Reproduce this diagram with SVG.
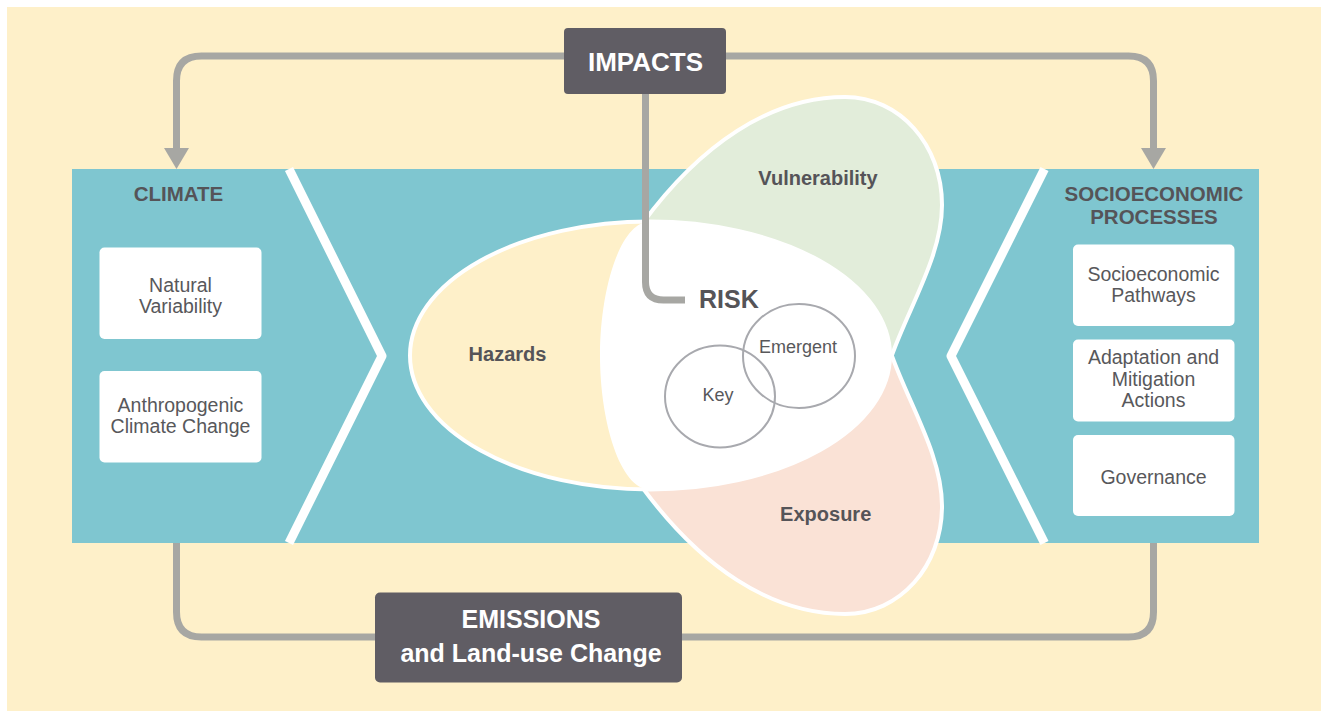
<svg xmlns="http://www.w3.org/2000/svg" width="1321" height="711" viewBox="0 0 1321 711">
  <defs>
    <style>
      .lbl { font-family: "Liberation Sans", Arial, sans-serif; }
      .hdr { font-weight: bold; font-size: 20.5px; fill: #555458; text-anchor: middle; }
      .box { fill: #ffffff; }
      .boxt { font-size: 19.5px; fill: #58585b; text-anchor: middle; }
      .venn { font-weight: bold; font-size: 20px; fill: #555458; text-anchor: middle; }
      .small { font-size: 18px; fill: #58585b; text-anchor: middle; }
      .dark { fill: #605d64; }
      .darkt { font-weight: bold; fill: #ffffff; text-anchor: middle; }
      .conn { fill: none; stroke: #a7a7a3; stroke-width: 7; }
      .chev { fill: none; stroke: #ffffff; stroke-width: 9; stroke-linejoin: round; }
      .shape { stroke: #ffffff; stroke-width: 4; stroke-linejoin: round; }
      .ring { fill: none; stroke: #a8a9ae; stroke-width: 2; }
    </style>
    <marker id="arrow" markerUnits="userSpaceOnUse" viewBox="0 0 21 25" markerWidth="21" markerHeight="25" refX="0" refY="12.5" orient="auto">
      <path d="M0,0 L21,12.5 L0,25 Z" fill="#a7a7a3"/>
    </marker>
    <path id="vulnPath" d="M892,355 C910,305 942,255 942,205 C942,145 900,97 845,97 C770,97 700,145 642,224 L640,262 L700,300 Z"/>
  </defs>

  <rect x="0" y="0" width="1321" height="711" fill="#ffffff"/>
  <rect x="7" y="7" width="1314" height="704" fill="#fef0c9"/>

  <g id="band">
    <rect x="72" y="169" width="1187" height="374" fill="#7fc6d0"/>
    <polyline class="chev" points="289,169 382,356 289,543"/>
    <polyline class="chev" points="1044.5,169 951,356 1044.5,543"/>
  </g>

  <g id="connectors">
    <path class="conn" d="M564,56 H201.5 Q176.5,56 176.5,81 V148" marker-end="url(#arrow)"/>
    <path class="conn" d="M726,56 H1128.5 Q1153.5,56 1153.5,81 V148" marker-end="url(#arrow)"/>
    <path class="conn" d="M176.5,543 V612 Q176.5,637 201.5,637 H375"/>
    <path class="conn" d="M682,637 H1128.5 Q1153.5,637 1153.5,612 V543"/>
  </g>

  <g id="vulnerability">
    <use href="#vulnPath" class="shape" fill="#e2edda"/>
  </g>
  <g id="exposure">
    <use href="#vulnPath" class="shape" fill="#fae2d6" transform="matrix(1 0 0 -1 0 711)"/>
  </g>
  <g id="hazards">
    <ellipse class="shape" cx="650" cy="355.5" rx="240" ry="134" fill="#fef0c9"/>
  </g>
  <g id="risk">
    <path d="M890,355.5 A240 134 0 0 0 650,221.5 C620,221.5 600,290 600,355.5 C600,421 620,489.5 650,489.5 A240 134 0 0 0 890,355.5 Z" fill="#ffffff"/>
    <ellipse class="ring" cx="720" cy="396.5" rx="55" ry="51"/>
    <ellipse class="ring" cx="799" cy="356" rx="56" ry="52"/>
  </g>

  <g id="impacts-risk-link">
    <path class="conn" d="M645.5,94 V282 Q645.5,300 663.5,300 H685"/>
  </g>

  <g id="venn-labels" class="lbl">
    <text class="venn" x="818" y="185">Vulnerability</text>
    <text class="venn" x="507.5" y="360.7">Hazards</text>
    <text class="venn" x="825.7" y="520.7">Exposure</text>
    <text x="699" y="308" font-weight="bold" font-size="25" fill="#555458">RISK</text>
    <text class="small" x="718" y="400.7">Key</text>
    <text class="small" x="798" y="352.7">Emergent</text>
  </g>

  <g id="climate" class="lbl">
    <text class="hdr" x="178.5" y="201">CLIMATE</text>
    <g id="natural-variability">
      <rect class="box" x="99.5" y="247.5" width="162" height="91.5" rx="5"/>
      <text class="boxt" x="180.5" y="291.7">Natural</text>
      <text class="boxt" x="180.5" y="312.7">Variability</text>
    </g>
    <g id="anthropogenic">
      <rect class="box" x="99.5" y="371" width="162" height="91.5" rx="5"/>
      <text class="boxt" x="180.5" y="411.7">Anthropogenic</text>
      <text class="boxt" x="180.5" y="432.7">Climate Change</text>
    </g>
  </g>

  <g id="socioeconomic" class="lbl">
    <text class="hdr" x="1154" y="201">SOCIOECONOMIC</text>
    <text class="hdr" x="1154" y="224">PROCESSES</text>
    <g id="pathways">
      <rect class="box" x="1073" y="244.5" width="161.5" height="81.5" rx="5"/>
      <text class="boxt" x="1153.5" y="280.7">Socioeconomic</text>
      <text class="boxt" x="1153.5" y="301.7">Pathways</text>
    </g>
    <g id="adaptation">
      <rect class="box" x="1073" y="339.5" width="161.5" height="82" rx="5"/>
      <text class="boxt" x="1153.5" y="364.3">Adaptation and</text>
      <text class="boxt" x="1153.5" y="385.7">Mitigation</text>
      <text class="boxt" x="1153.5" y="406.7">Actions</text>
    </g>
    <g id="governance">
      <rect class="box" x="1073" y="435" width="161.5" height="81" rx="5"/>
      <text class="boxt" x="1153.5" y="484">Governance</text>
    </g>
  </g>

  <g id="impacts" class="lbl">
    <rect class="dark" x="564" y="28" width="162" height="66" rx="4"/>
    <text class="darkt" x="645.5" y="71" font-size="26">IMPACTS</text>
  </g>

  <g id="emissions" class="lbl">
    <rect class="dark" x="375" y="592.5" width="307" height="90" rx="5"/>
    <text class="darkt" x="531" y="628.3" font-size="25">EMISSIONS</text>
    <text class="darkt" x="531" y="661.7" font-size="25">and Land-use Change</text>
  </g>
</svg>
